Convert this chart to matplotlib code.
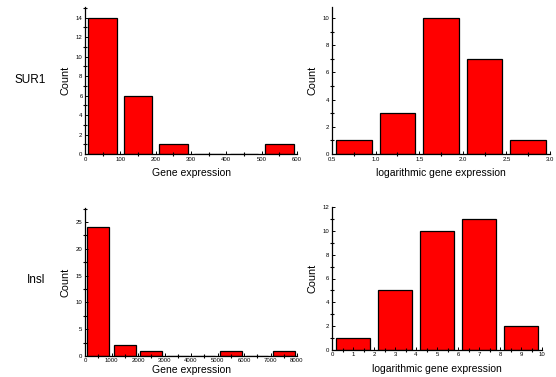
import numpy as np
import matplotlib
matplotlib.use('Agg')
import matplotlib.pyplot as plt
from matplotlib.ticker import MultipleLocator, AutoMinorLocator

plt.rcParams['font.family'] = ['Liberation Sans', 'DejaVu Sans']

# histogram data (bin left edges, counts)
sur1_edges = [0, 100, 200, 300, 400, 500]
sur1_counts = [14, 6, 1, 0, 0, 1]
sur1_log_edges = [0.5, 1.0, 1.5, 2.0, 2.5]
sur1_log_counts = [1, 3, 10, 7, 1]

insl_edges = [0, 1000, 2000, 3000, 4000, 5000, 6000, 7000]
insl_counts = [24, 2, 1, 0, 0, 1, 0, 1]
insl_log_edges = [0, 2, 4, 6, 8]
insl_log_counts = [1, 5, 10, 11, 2]

row_labels = ['SUR1', 'Insl']

W, H = 556, 377
fig = plt.figure(figsize=(W / 100, H / 100), dpi=100)


def box(l, r, t, b):
    return [l / W, 1 - b / H, (r - l) / W, (b - t) / H]


def hist_panel(rect, edges, counts, binw, xlim, ylim, xmaj, ymaj, xlabel,
               fmt=None, xpad=4.5):
    ax = fig.add_axes(rect)
    centers = np.array(edges) + binw / 2
    ax.bar(centers, counts, width=binw * 0.82, color='#ff0000',
           edgecolor='black', linewidth=0.9)
    ax.set_xlim(*xlim)
    ax.set_ylim(*ylim)
    ax.spines['top'].set_visible(False)
    ax.spines['right'].set_visible(False)
    ax.spines['left'].set_linewidth(0.9)
    ax.spines['bottom'].set_linewidth(0.9)
    ax.xaxis.set_major_locator(MultipleLocator(xmaj))
    ax.yaxis.set_major_locator(MultipleLocator(ymaj))
    ax.xaxis.set_minor_locator(AutoMinorLocator(2))
    ax.yaxis.set_minor_locator(AutoMinorLocator(2))
    if fmt:
        ax.xaxis.set_major_formatter(fmt)
    ax.tick_params(which='major', direction='in', length=2.5, width=0.7,
                   labelsize=4.3, pad=1.8)
    ax.tick_params(which='minor', direction='inout', length=3, width=0.8)
    ax.set_ylabel('Count', fontsize=7.8, labelpad=4)
    ax.set_xlabel(xlabel, fontsize=7.5, labelpad=xpad)
    return ax


hist_panel(box(85, 297, 7, 154), sur1_edges, sur1_counts, 100,
           (0, 600), (0, 15.1), 100, 2, 'Gene expression')
hist_panel(box(332, 550, 7, 154), sur1_log_edges, sur1_log_counts, 0.5,
           (0.5, 3.0), (0, 10.8), 0.5, 2, 'logarithmic gene expression',
           fmt=matplotlib.ticker.FormatStrFormatter('%.1f'))
hist_panel(box(85, 297, 208, 356), insl_edges, insl_counts, 1000,
           (0, 8000), (0, 27.6), 1000, 5, 'Gene expression', xpad=1)
hist_panel(box(332, 542, 207, 350), insl_log_edges, insl_log_counts, 2,
           (0, 10), (0, 12), 1, 2, 'logarithmic gene expression')

fig.text(30 / W, 1 - 80 / H, row_labels[0], fontsize=8.5, ha='center', va='center')
fig.text(36 / W, 1 - 280 / H, row_labels[1], fontsize=8.5, ha='center', va='center')

fig.savefig('out.png', dpi=100)
